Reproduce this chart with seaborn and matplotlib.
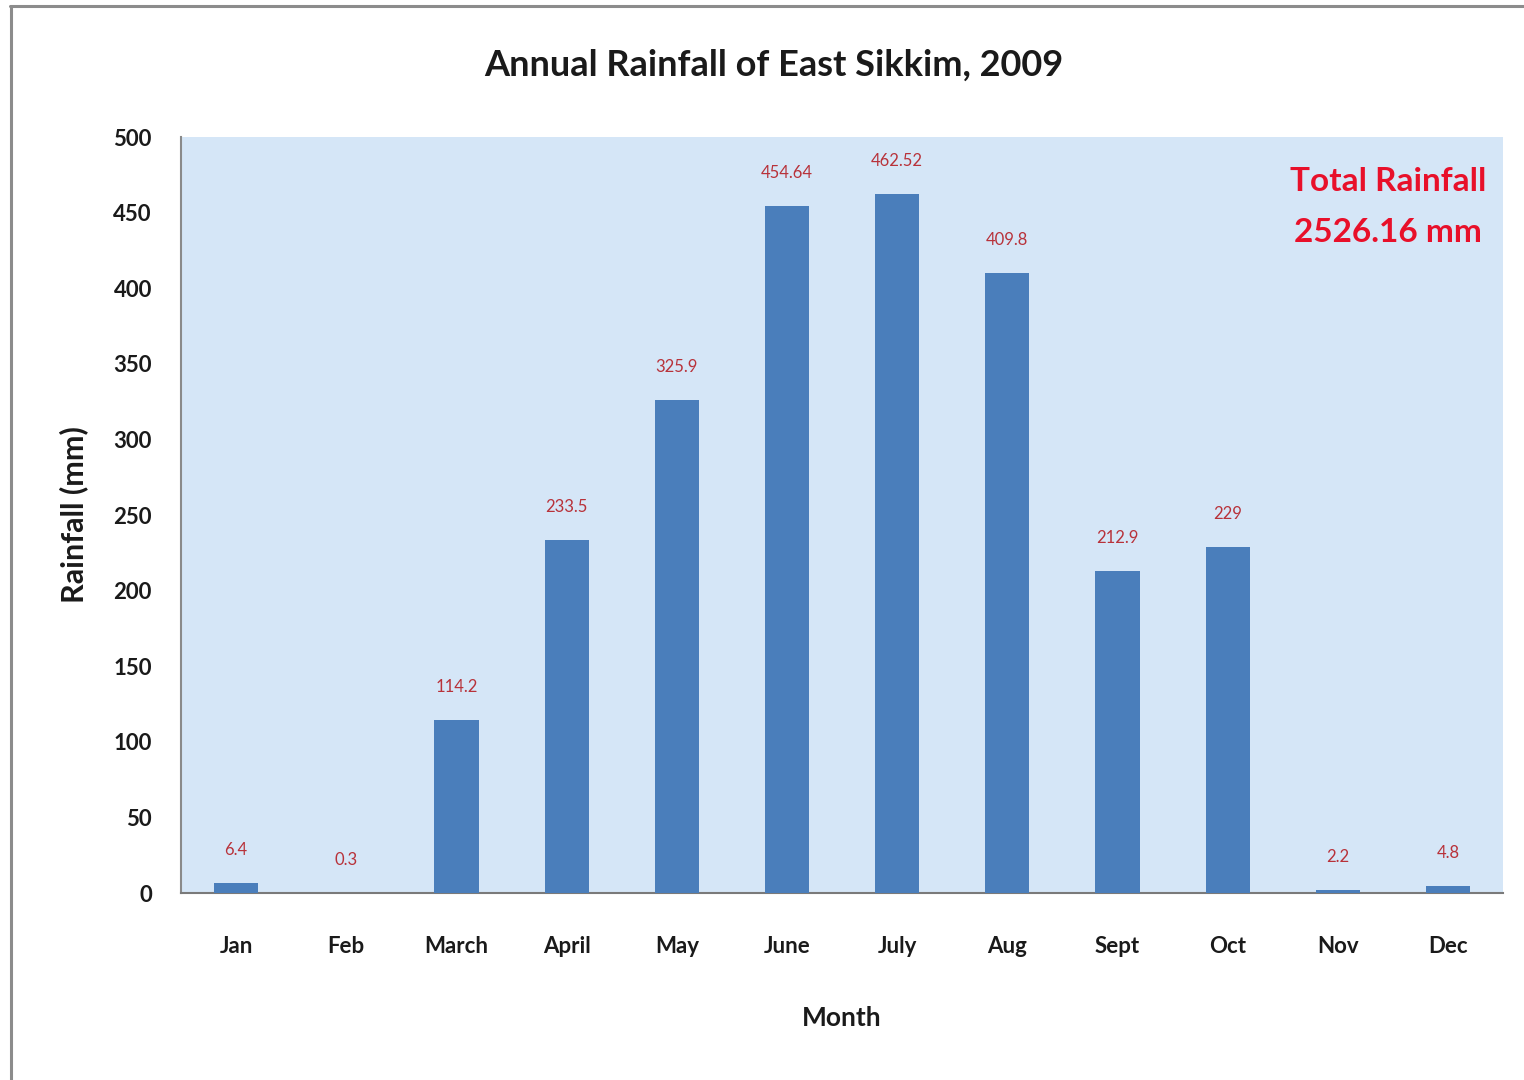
import matplotlib
matplotlib.use("Agg")
import matplotlib.pyplot as plt
import seaborn as sns
import pandas as pd
from matplotlib.lines import Line2D

# Monthly rainfall, East Sikkim 2009 (mm)
months = ["Jan", "Feb", "March", "April", "May", "June",
          "July", "Aug", "Sept", "Oct", "Nov", "Dec"]
rainfall = [6.4, 0.3, 114.2, 233.5, 325.9, 454.64,
            462.52, 409.8, 212.9, 229, 2.2, 4.8]
value_labels = ["6.4", "0.3", "114.2", "233.5", "325.9", "454.64",
                "462.52", "409.8", "212.9", "229", "2.2", "4.8"]
total_label = "Total Rainfall\n2526.16 mm"
y_ticks = [0, 50, 100, 150, 200, 250, 300, 350, 400, 450, 500]

df = pd.DataFrame({"Month": months, "Rainfall": rainfall})

sns.set_style("white")
plt.rcParams["font.family"] = ["Lato", "DejaVu Sans"]

fig = plt.figure(figsize=(15.24, 10.8), dpi=100)
fig.patch.set_facecolor("white")

# frame around the chart area
fig.add_artist(Line2D([0.0066, 1.0], [0.9945, 0.9945], color="#8c8c8c", lw=2.2,
                      transform=fig.transFigure))
fig.add_artist(Line2D([0.0072, 0.0072], [0.0, 0.9945], color="#8c8c8c", lw=2.2,
                      transform=fig.transFigure))

ax = fig.add_axes([0.1188, 0.1731, 0.8675, 0.7])
ax.set_facecolor("#d5e6f7")

sns.barplot(data=df, x="Month", y="Rainfall", color="#4a7ebb", saturation=1,
            width=0.4, linewidth=0, ax=ax, zorder=3)

ax.set_xlim(-0.5, 11.5)
ax.set_ylim(0, 500)
ax.set_yticks(y_ticks)
ax.set_yticklabels([str(t) for t in y_ticks], fontsize=16, color="#1a1a1a",
                   fontweight="bold")
ax.set_xticks(range(len(months)))
ax.set_xticklabels(months, fontsize=16, color="#1a1a1a", fontweight="bold")
ax.tick_params(axis="x", length=0, pad=31)
ax.tick_params(axis="y", length=7, width=1.2, color="#808080", pad=14, direction="out")

for side in ["top", "right"]:
    ax.spines[side].set_visible(False)
ax.spines["left"].set_color("#8a8a8a")
ax.spines["left"].set_linewidth(1.5)
ax.spines["bottom"].set_color("#7a7a7a")
ax.spines["bottom"].set_linewidth(1.5)

for i, (v, lab) in enumerate(zip(rainfall, value_labels)):
    ax.annotate(lab, xy=(i, v), xytext=(0, 18), textcoords="offset points",
                ha="center", va="bottom", fontsize=12, color="#b8323a")

ax.text(0.913, 0.96, total_label, transform=ax.transAxes, ha="center",
        va="top", fontsize=24, fontweight="bold", color="#e8102a",
        linespacing=1.9)

ax.set_xlabel("Month", fontsize=19, fontweight="bold", color="#1a1a1a", labelpad=35)
ax.set_ylabel("Rainfall (mm)", fontsize=22, fontweight="bold", color="#1a1a1a",
              labelpad=18)
fig.text(0.508, 0.94, "Annual Rainfall of East Sikkim, 2009", ha="center",
         va="center", fontsize=26, fontweight="bold", color="#1a1a1a")

fig.savefig("out.png", dpi=100, facecolor="white")
